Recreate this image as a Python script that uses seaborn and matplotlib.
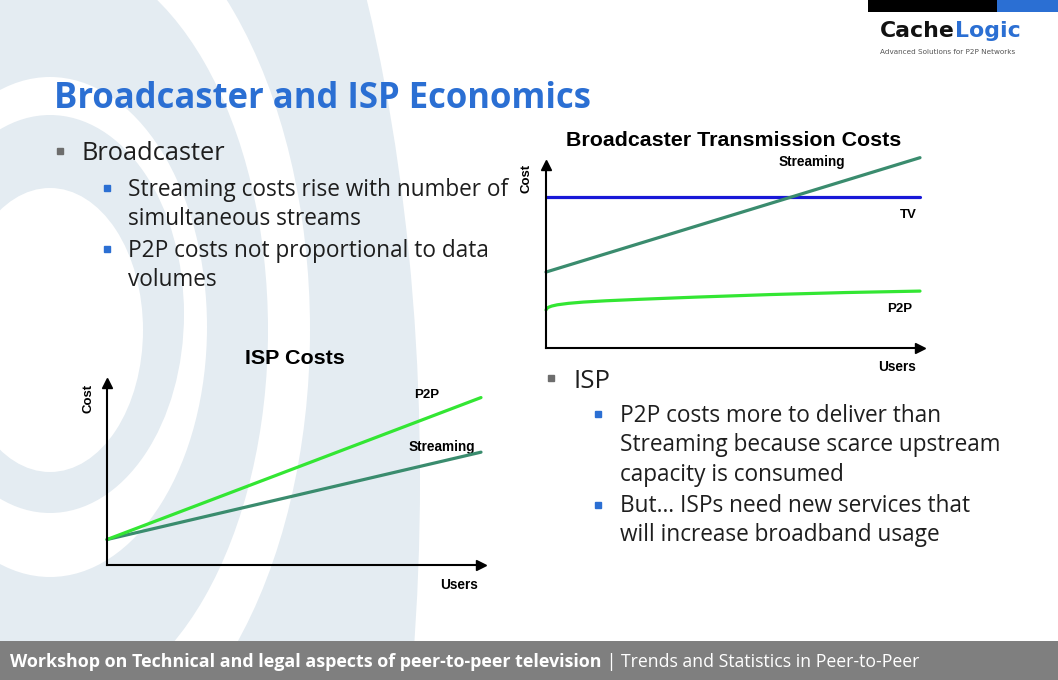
import matplotlib
matplotlib.use("Agg")
import matplotlib.pyplot as plt
from matplotlib.patches import Ellipse, Rectangle
import pandas as pd
import seaborn as sns

# ISP Costs chart (users vs cost, arbitrary units)
isp_users = [0, 10]
isp_p2p = [1.4, 9.2]
isp_streaming = [1.4, 6.2]

# Broadcaster Transmission Costs chart
bc_users = [0, 0.02, 0.06, 0.15, 0.3, 0.6, 1.0, 1.6, 2.5, 4, 6, 8, 10]
bc_p2p = [2.08, 2.15, 2.22, 2.29, 2.36, 2.44, 2.51, 2.58, 2.66, 2.78, 2.92, 3.03, 3.11]
bc_line_users = [0, 10]
bc_tv = [8.25, 8.25]
bc_streaming = [4.15, 10.4]

title = "Broadcaster and ISP Economics"
broadcaster_points = ["Streaming costs rise with number of", "simultaneous streams",
                      "P2P costs not proportional to data", "volumes"]
isp_points = ["P2P costs more to deliver than", "Streaming because scarce upstream",
              "capacity is consumed", "But\u2026 ISPs need new services that",
              "will increase broadband usage"]
footer_bold = "Workshop on Technical and legal aspects of peer-to-peer television"
footer_rest = " | Trends and Statistics in Peer-to-Peer"

BLUE = "#2b6fd3"
RING = "#e4ecf2"
GREEN = "#33e633"
SEA = "#3a8c6e"
TV_BLUE = "#1818d8"

sns.set_theme(style="white")
plt.rcParams["font.family"] = ["DejaVu Sans"]

W, H = 1058, 680
fig = plt.figure(figsize=(W / 100, H / 100), dpi=100)
bg = fig.add_axes([0, 0, 1, 1])
bg.set_xlim(0, W)
bg.set_ylim(H, 0)
bg.axis("off")

# background rings
rings = [(RING, 50, 480, 370, 930), ("white", 50, 330, 260, 450),
         (RING, 50, 330, 218, 379), ("white", 50, 327, 157, 250),
         (RING, 50, 314, 134, 199), ("white", 50, 330, 93, 142)]
for col, cx, cy, a, b in rings:
    bg.add_patch(Ellipse((cx, cy), 2 * a, 2 * b, color=col, lw=0))

# footer band and logo bars
bg.add_patch(Rectangle((0, 641), W, 39, color="#7f7f7f", lw=0))
bg.add_patch(Rectangle((868, 0), 129, 12, color="black", lw=0))
bg.add_patch(Rectangle((997, 0), 61, 12, color=BLUE, lw=0))

renderer = fig.canvas.get_renderer()


def put(x, y, s, width=None, **kw):
    t = bg.text(x, y, s, **kw)
    if width:
        bb = t.get_window_extent(renderer)
        t.set_fontsize(t.get_fontsize() * width / bb.width)
    return t


# logo
c = put(880, 37, "Cache", width=75, fontsize=16, fontweight="bold", color="#111111", va="baseline")
bb = c.get_window_extent(renderer)
put(bb.x1, 37, "Logic", fontsize=c.get_fontsize(), fontweight="bold", color=BLUE, va="baseline")
put(880, 54, "Advanced Solutions for P2P Networks", width=137, fontsize=5, color="#555555", va="baseline")

# title
put(54, 108, title, width=536, fontsize=22, fontweight="bold", color=BLUE, va="baseline",
    family=["Open Sans", "DejaVu Sans"])

# bullets
body = dict(family=["Open Sans", "DejaVu Sans"], color="#1e1e1e", va="baseline")
bg.plot(60, 151, "s", color="#6d6d6d", ms=4.5)
put(81, 160, "Broadcaster", width=144, fontsize=18.5, **body)
for i, y in [(0, 196), (1, 225), (2, 257), (3, 286)]:
    put(128, y, broadcaster_points[i], fontsize=16.3, **body)
bg.plot([107, 107], [188, 249], "s", color=BLUE, ms=4.5)

bg.plot(551, 378, "s", color="#6d6d6d", ms=4.5)
put(573, 388, "ISP", fontsize=18.5, **body)
for i, y in enumerate([422, 451, 481, 512, 541]):
    put(620, y, isp_points[i], fontsize=16.3, **body)
bg.plot([598, 598], [414, 505], "s", color=BLUE, ms=4.5)

# footer
foot = dict(family=["Open Sans", "DejaVu Sans"], color="white", va="baseline")
fb = put(10, 667, footer_bold, width=592, fontsize=11, fontweight="bold", **foot)
bb = fb.get_window_extent(renderer)
put(bb.x1, 667, footer_rest, width=918 - bb.x1, fontsize=11, **foot)

# chart labels
lab = dict(family=["Liberation Sans", "DejaVu Sans"], fontweight="bold", color="black",
           ha="center", va="center")
put(295, 359, "ISP Costs", width=100, fontsize=14, **lab)
put(88, 398, "Cost", fontsize=9.5, rotation=90, **lab)
put(427, 395, "P2P", fontsize=9.5, **lab)
put(442, 447, "Streaming", fontsize=9.8, **lab)
put(459, 585, "Users", fontsize=9.8, **lab)

put(734, 140, "Broadcaster Transmission Costs", width=335, fontsize=14, **lab)
put(527, 178, "Cost", fontsize=9.5, rotation=90, **lab)
put(812, 162, "Streaming", fontsize=9.8, **lab)
put(908, 215, "TV", fontsize=9.5, **lab)
put(900, 309, "P2P", fontsize=9.5, **lab)
put(897, 367, "Users", fontsize=9.8, **lab)


def chart(left, top, right, bottom, df, palette):
    ax = fig.add_axes([left / W, (H - bottom) / H, (right - left) / W, (bottom - top) / H])
    ax.set_facecolor("none")
    sns.lineplot(data=df, x="users", y="cost", hue="series", palette=palette,
                 linewidth=2.3, legend=False, ax=ax, clip_on=False, estimator=None)
    ax.set_xlim(0, 10)
    ax.set_ylim(0, 10)
    ax.set_xticks([])
    ax.set_yticks([])
    ax.set_xlabel("")
    ax.set_ylabel("")
    for s in ["top", "right"]:
        ax.spines[s].set_visible(False)
    for s in ["left", "bottom"]:
        ax.spines[s].set_color("black")
        ax.spines[s].set_linewidth(1.5)
    ax.plot(1, 0, ">", color="black", ms=7, transform=ax.transAxes, clip_on=False)
    ax.plot(0, 1, "^", color="black", ms=7, transform=ax.transAxes, clip_on=False)
    return ax


isp = pd.concat([
    pd.DataFrame({"users": isp_users, "cost": isp_streaming, "series": "Streaming"}),
    pd.DataFrame({"users": isp_users, "cost": isp_p2p, "series": "P2P"}),
])
chart(107, 383, 481, 565, isp, {"Streaming": SEA, "P2P": GREEN})

bc = pd.concat([
    pd.DataFrame({"users": bc_line_users, "cost": bc_tv, "series": "TV"}),
    pd.DataFrame({"users": bc_line_users, "cost": bc_streaming, "series": "Streaming"}),
    pd.DataFrame({"users": bc_users, "cost": bc_p2p, "series": "P2P"}),
])
chart(546, 165, 920, 348, bc, {"TV": TV_BLUE, "Streaming": SEA, "P2P": GREEN})

fig.savefig("out.png", dpi=100)
